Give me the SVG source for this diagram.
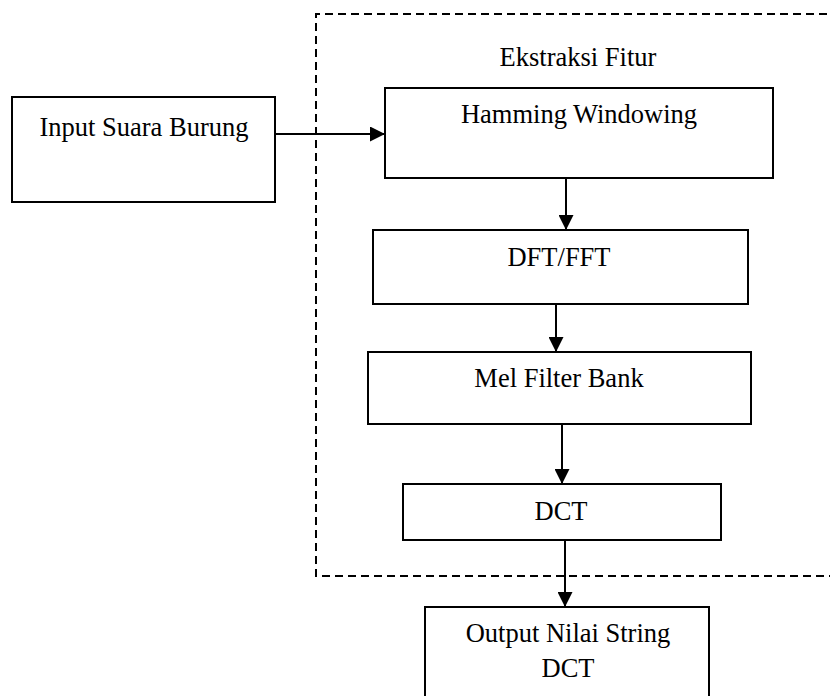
<svg xmlns="http://www.w3.org/2000/svg" width="830" height="696" viewBox="0 0 830 696">
<defs>
<style>
.box{fill:#fff;stroke:#000;stroke-width:2}
.t{font-family:"Liberation Serif","Times New Roman",serif;font-size:26.5px;fill:#000;text-anchor:middle}
.c{stroke:#000;stroke-width:2;fill:none}
.dash{fill:none;stroke:#000;stroke-width:2;stroke-dasharray:8,5}
</style>
<marker id="ah" viewBox="0 0 10 10" refX="10" refY="5" markerWidth="15" markerHeight="15" markerUnits="userSpaceOnUse" orient="auto">
<path d="M0,0 L10,5 L0,10 Z" fill="#000"/>
</marker>
</defs>
<rect width="830" height="696" fill="#fff"/>
<g id="ekstraksi">
<path class="dash" d="M840,14 H316 V576 H840"/>
<text class="t" x="578" y="66">Ekstraksi Fitur</text>
</g>
<g id="input">
<rect class="box" x="12" y="97" width="263" height="105"/>
<text class="t" x="144" y="136">Input Suara Burung</text>
</g>
<g id="hamming">
<rect class="box" x="385" y="88" width="388" height="90"/>
<text class="t" x="579" y="123">Hamming Windowing</text>
</g>
<g id="dft">
<rect class="box" x="373" y="230" width="375" height="74"/>
<text class="t" x="559" y="266">DFT/FFT</text>
</g>
<g id="mel">
<rect class="box" x="368" y="352" width="383" height="72"/>
<text class="t" x="559" y="387">Mel Filter Bank</text>
</g>
<g id="dct">
<rect class="box" x="403" y="484" width="318" height="56"/>
<text class="t" x="561" y="520">DCT</text>
</g>
<g id="output">
<rect class="box" x="425" y="607" width="284" height="100"/>
<text class="t" x="568" y="642">Output Nilai String</text>
<text class="t" x="568" y="677">DCT</text>
</g>
<g id="connectors">
<line class="c" x1="276" y1="134" x2="385" y2="134" marker-end="url(#ah)"/>
<line class="c" x1="566" y1="178" x2="566" y2="230" marker-end="url(#ah)"/>
<line class="c" x1="556" y1="304" x2="556" y2="352" marker-end="url(#ah)"/>
<line class="c" x1="562" y1="424" x2="562" y2="484" marker-end="url(#ah)"/>
<line class="c" x1="565" y1="540" x2="565" y2="607" marker-end="url(#ah)"/>
</g>
</svg>
